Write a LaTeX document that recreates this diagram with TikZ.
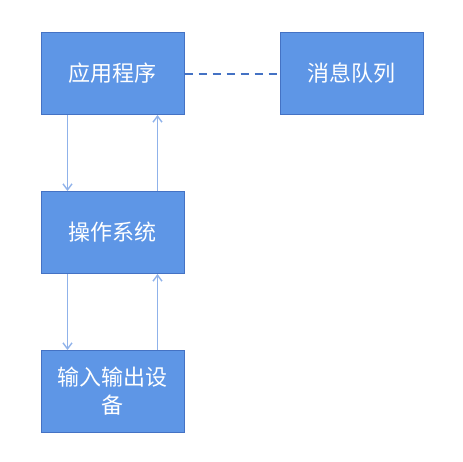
\documentclass[tikz,border=0pt]{standalone}
\usepackage{fontspec}
\setmainfont{Noto Sans CJK SC}
\usetikzlibrary{positioning, arrows.meta}
\definecolor{boxfill}{HTML}{5E96E6}
\definecolor{boxline}{HTML}{4472C4}
\definecolor{linkline}{HTML}{8FB2EA}

\begin{document}
\begin{tikzpicture}[
    x=1pt, y=1pt,
    box/.style={rectangle, draw=boxline, line width=1pt, fill=boxfill, minimum width=143pt, minimum height=82pt, inner sep=0pt, align=center, text=white, font=\fontsize{22}{28}\selectfont},
    arrow/.style={-{Straight Barb[length=6pt, width=9pt]}, draw=linkline, line width=1.4pt}
]
\useasboundingbox (0,0) rectangle (463,-461);

% Boxes
\node[box] (app) at (112.5,-73.5) {应用程序};
\node[box, right=95pt of app] (queue) {消息队列};
\node[box, below=76pt of app] (os) {操作系统};
\node[box, below=76pt of os] (io) {输入输出设\\备};

% Links
\draw[boxline, line width=2pt, dash pattern=on 8pt off 6pt] (app) -- (queue);

\draw[arrow] ([xshift=-45pt]app.south) -- ([xshift=-45pt]os.north);
\draw[arrow] ([xshift=45pt]os.north) -- ([xshift=45pt]app.south);
\draw[arrow] ([xshift=-45pt]os.south) -- ([xshift=-45pt]io.north);
\draw[arrow] ([xshift=45pt]io.north) -- ([xshift=45pt]os.south);
\end{tikzpicture}
\end{document}
